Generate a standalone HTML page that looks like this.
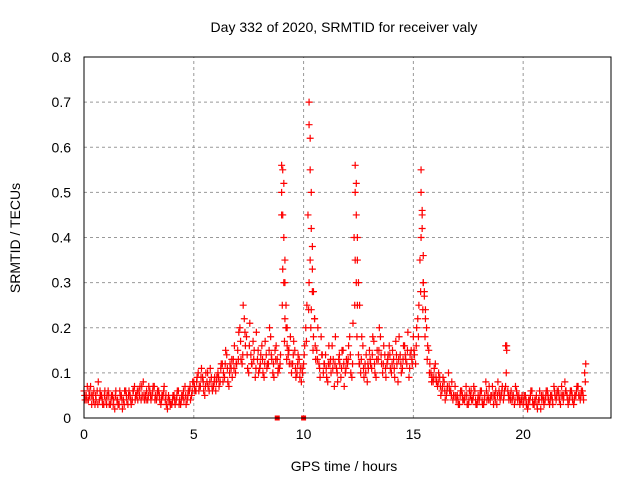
<!DOCTYPE html>
<html><head><meta charset="utf-8"><style>
body{margin:0;background:#fff;}
svg{display:block;font-family:"Liberation Sans",sans-serif;}
</style></head><body>
<svg id="chart" width="640" height="480">
<text x="344" y="32" font-size="14" text-anchor="middle">Day 332 of 2020, SRMTID for receiver valy</text>
<text x="344" y="471" font-size="14" text-anchor="middle">GPS time / hours</text>
<text transform="translate(20,238) rotate(-90)" font-size="14" text-anchor="middle">SRMTID / TECUs</text>
<g id="grid"></g><g id="ticks"></g><g id="marks"></g>
<rect x="84" y="57" width="527" height="361" fill="none" stroke="#000" stroke-width="1"/>
</svg>
<script>
const xTicks=[0,5,10,15,20];
const yTicks=[0,0.1,0.2,0.3,0.4,0.5,0.6,0.7,0.8];
const yTickLabels=["0","0.1","0.2","0.3","0.4","0.5","0.6","0.7","0.8"];
const seriesA=[.06,.05,.04,.07,.05,.03,.06,.04,.05,.03,
.04,.06,.03,.05,.02,.04,.03,.05,.04,.06,
.03,.05,.04,.07,.05,.06,.04,.08,.05,.04,
.06,.05,.07,.04,.06,.03,.05,.04,.02,.04,
.03,.05,.04,.06,.03,.05,.07,.04,.06,.05,
.08,.06,.10,.07,.09,.05,.08,.06,.09,.07,
.06,.10,.08,.12,.09,.14,.07,.11,.13,.10,
.15,.20,.12,.22,.18,.10,.14,.17,.09,.13,
.11,.16,.09,.14,.12,.18,.10,.15,.13,.11,
.45,.30,.20,.14,.18,.12,.15,.10,.13,.08,
.12,.20,.45,.35,.28,.22,.15,.12,.18,.10,
.14,.08,.12,.16,.07,.11,.13,.09,.15,.10,
.12,.18,.09,.40,.30,.14,.10,.16,.12,.08,
.15,.11,.17,.09,.13,.18,.10,.14,.12,.16,
.10,.13,.17,.08,.14,.11,.16,.12,.09,.15,
.18,.12,.22,.35,.45,.28,.20,.15,.10,.08,
.12,.07,.09,.06,.08,.05,.10,.06,.04,.07,
.05,.03,.06,.04,.07,.03,.05,.04,.06,.03,
.04,.06,.03,.08,.05,.04,.07,.05,.03,.06,
.05,.04,.07,.06,.05,.04,.03,.06,.05,.04,
.03,.05,.02,.04,.06,.03,.05,.04,.02,.05,
.04,.06,.03,.05,.07,.04,.06,.03,.05,.08,
.05,.04,.06,.03,.05,.07,.04,.06,.10];
const seriesB=[.04,.07,.05,.03,.06,.04,.08,.05,.03,.06,
.05,.03,.05,.04,.06,.03,.05,.02,.06,.04,
.06,.03,.06,.05,.04,.07,.05,.04,.06,.07,
.04,.07,.05,.06,.04,.05,.07,.03,.05,.03,
.05,.03,.06,.04,.05,.04,.03,.06,.04,.08,
.06,.09,.07,.11,.06,.10,.07,.11,.06,.09,
.09,.07,.12,.10,.15,.08,.12,.09,.16,.12,
.19,.13,.25,.16,.11,.21,.12,.15,.19,.10,
.14,.10,.17,.12,.20,.13,.09,.16,.11,.14,
.33,.22,.16,.12,.10,.17,.09,.14,.11,.10,
.16,.25,.30,.24,.18,.13,.20,.09,.14,.12,
.09,.16,.10,.13,.18,.08,.12,.15,.07,.13,
.16,.10,.21,.35,.25,.12,.18,.09,.14,.11,
.12,.18,.10,.15,.20,.12,.16,.09,.14,.11,
.15,.09,.12,.18,.10,.16,.13,.19,.14,.12,
.14,.20,.25,.40,.30,.24,.16,.12,.09,.11,
.08,.10,.05,.09,.04,.07,.06,.08,.05,.04,
.03,.06,.04,.05,.03,.06,.04,.07,.03,.05,
.06,.03,.05,.04,.07,.05,.03,.06,.08,.04,
.07,.06,.16,.04,.06,.05,.07,.04,.03,.05,
.05,.03,.04,.06,.03,.04,.02,.06,.04,.03,
.06,.04,.05,.03,.05,.06,.04,.07,.05,.06,
.03,.06,.04,.05,.07,.05,.06,.04,.12];
const seriesC=[.05,.04,.06,.05,.04,.05,.03,.06,.04,.05,
.03,.05,.04,.03,.05,.04,.06,.04,.03,.05,
.05,.04,.06,.04,.06,.05,.07,.05,.04,.05,
.05,.06,.04,.05,.05,.04,.06,.05,.04,.03,
.04,.04,.05,.03,.04,.06,.05,.05,.07,.06,
.07,.08,.06,.09,.08,.07,.10,.08,.07,.08,
.08,.09,.11,.08,.12,.11,.10,.13,.11,.12,
.13,.17,.14,.19,.14,.16,.12,.13,.11,.15,
.12,.13,.12,.11,.15,.14,.12,.13,.10,.12,
.25,.17,.13,.15,.12,.14,.11,.12,.09,.11,
.14,.17,.24,.20,.15,.16,.13,.11,.14,.12,
.11,.12,.13,.11,.12,.10,.14,.11,.12,.11,
.13,.14,.12,.25,.18,.12,.13,.11,.10,.12,
.13,.14,.12,.13,.15,.14,.12,.11,.13,.14,
.12,.11,.14,.13,.12,.13,.14,.15,.11,.13,
.15,.16,.18,.28,.24,.18,.13,.10,.08,.09,
.09,.08,.07,.07,.06,.06,.07,.05,.05,.05,
.04,.05,.05,.04,.05,.04,.06,.05,.04,.04,
.05,.04,.04,.06,.04,.05,.05,.04,.05,.05,
.06,.05,.10,.05,.04,.05,.04,.05,.04,.04,
.04,.04,.03,.05,.04,.04,.03,.04,.05,.04,
.05,.05,.04,.04,.06,.05,.05,.05,.04,.06,
.04,.05,.05,.04,.06,.05,.05,.05,.08];
const spikeT=[9.0,9.0,9.05,9.05,9.1,9.1,9.15,9.15,9.2,9.25,9.3,10.25,10.25,10.3,10.3,10.35,10.35,10.4,10.4,10.45,10.5,12.35,12.35,12.4,12.4,12.45,12.45,12.5,12.55,15.35,15.35,15.4,15.4,15.45,15.45,15.5,15.55,19.2,19.25];
const spikeV=[.56,.50,.55,.45,.52,.40,.35,.30,.25,.20,.15,.70,.65,.62,.55,.50,.42,.38,.33,.28,.22,.56,.50,.52,.45,.40,.35,.30,.25,.55,.50,.46,.42,.36,.30,.27,.22,.16,.15];
const zeroT=[8.8,10.0];
const X0=84,X1=611,Y0=418,Y1=57,XMAX=24,YMAX=0.8;
const sx=t=>X0+(X1-X0)*t/XMAX;
const sy=v=>Y0-(Y0-Y1)*v/YMAX;
const NS="http://www.w3.org/2000/svg";
function mk(tag,attrs,parent,text){const e=document.createElementNS(NS,tag);for(const k in attrs)e.setAttribute(k,attrs[k]);if(text!==undefined)e.textContent=text;document.getElementById(parent).appendChild(e);return e;}
xTicks.forEach(t=>{
  if(t>0){const g=mk('line',{x1:sx(t),x2:sx(t),y1:Y0,y2:Y1,stroke:'#999','stroke-dasharray':'3,3'},'grid');
  
  }
  const l=mk('text',{x:sx(t),y:Y0+21,'font-size':14,'text-anchor':'middle'},'ticks',String(t));
  
  
});
yTicks.forEach((v,i)=>{
  if(v>0&&v<YMAX){const g=mk('line',{x1:X0,x2:X1,y1:sy(v),y2:sy(v),stroke:'#999','stroke-dasharray':'3,3'},'grid');
  
  }
  const l=mk('text',{x:X0-13,y:sy(v)+5,'font-size':14,'text-anchor':'end'},'ticks',yTickLabels[i]);
  
  
});
function cross(t,v,c){const x=sx(t),y=sy(v);
  const p=mk('path',{d:`M${x-3.5},${y}h7M${x},${y-3.5}v7`,stroke:c,'stroke-width':1.2},'marks');
  
  }
seriesA.forEach((v,i)=>cross(i*0.1,v,'#f00'));
seriesB.forEach((v,i)=>cross(i*0.1+0.05,v,'#f00'));
seriesC.forEach((v,i)=>cross(i*0.1+0.03,v,'#f00'));
spikeT.forEach((t,i)=>cross(t,spikeV[i],'#f00'));
zeroT.forEach(t=>{const r=mk('rect',{x:sx(t)-2.5,y:Y0-2.5,width:5,height:5,fill:'#f00'},'marks');
  
  });
</script>
</body></html>
